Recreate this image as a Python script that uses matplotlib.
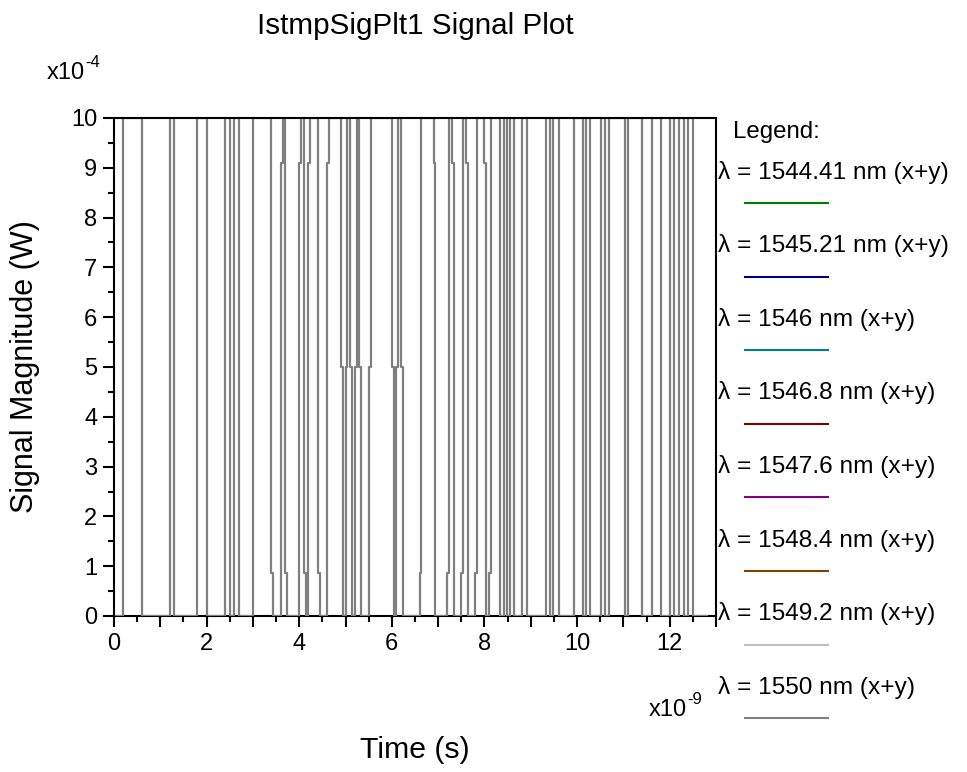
import matplotlib.pyplot as plt
from matplotlib.ticker import MultipleLocator, FuncFormatter

plt.rcParams['font.family'] = ['Liberation Sans', 'DejaVu Sans']

# Edge times of the received pulse train (ns). The signal starts low and
# toggles at every edge; edge_levels holds the level (x1e-4 W) of the single
# sample caught mid-transition, None where the edge is clean.
edge_times = [0.2, 0.6, 1.2, 1.3, 1.8, 2.0, 2.4, 2.5, 2.6, 2.7, 3.0,
              3.4, 3.6, 3.7, 4.0, 4.1, 4.2, 4.4, 4.6,
              4.9, 5.0, 5.1, 5.2, 5.3, 5.5, 6.0, 6.1, 6.2,
              6.6, 6.9, 7.2, 7.3, 7.5, 7.6, 7.8, 8.0, 8.1,
              8.33, 8.42, 8.49, 8.55, 8.63, 8.8, 8.91, 9.32, 9.42, 9.48, 9.62,
              9.93, 10.12, 10.2, 10.28, 10.52, 10.61, 10.7, 11.03, 11.11,
              11.4, 11.62, 11.82, 12.0, 12.1, 12.2, 12.3, 12.4, 12.5]
edge_levels = [None] * 11 + \
              [0.86, 9.1, 0.86, 9.1, 0.86, 9.1, 0.86, 9.1] + \
              [5.0] * 9 + \
              [0.86, 9.1, 0.86, 9.1, 0.86, 9.1, 0.86, 9.1, 0.86] + \
              [None] * 29
high_level = 10.0
settle_ns = 0.04
end_ns = 12.8

wavelengths = ['1544.41', '1545.21', '1546', '1546.8',
               '1547.6', '1548.4', '1549.2', '1550']
colors = ['#008000', '#000080', '#008080', '#800000',
          '#800080', '#804000', '#c0c0c0', '#808080']

# build the step trace
t_pts, y_pts = [0.0], [0.0]
level = 0.0
for t, mid in zip(edge_times, edge_levels):
    new = high_level - level
    t_pts.append(t); y_pts.append(level)
    if mid is not None:
        t_pts += [t, t + settle_ns]; y_pts += [mid, mid]
        t_pts.append(t + settle_ns)
    else:
        t_pts.append(t)
    y_pts.append(new)
    level = new
t_pts.append(end_ns); y_pts.append(level)

fig = plt.figure(figsize=(9.67, 7.72), dpi=100)
ax = fig.add_axes([114 / 967, 1 - 616 / 772, 602 / 967, 498 / 772])

ax.plot(t_pts, y_pts, color=colors[-1], lw=1.6, zorder=2)

ax.set_xlim(0, 13)
ax.set_ylim(0, 10)
ax.xaxis.set_major_locator(MultipleLocator(1))
ax.xaxis.set_minor_locator(MultipleLocator(0.5))
ax.xaxis.set_major_formatter(FuncFormatter(lambda v, p: f'{v:.0f}' if round(v) % 2 == 0 else ''))
ax.yaxis.set_major_locator(MultipleLocator(1))
ax.yaxis.set_minor_locator(MultipleLocator(0.5))
ax.tick_params(which='major', length=8, width=1.5, labelsize=17, pad=4)
ax.tick_params(which='minor', length=4, width=1.5)
for side in ['top', 'right', 'left', 'bottom']:
    ax.spines[side].set_linewidth(1.5)
ax.spines['bottom'].set_zorder(1.5)


def exp_label(x, y, power):
    base = fig.text(x / 967, 1 - y / 772, 'x10', ha='left', va='center', fontsize=17)
    ax.annotate(power, xy=(1.0, 0.62), xycoords=base, ha='left', va='bottom', fontsize=12)


fig.text(415 / 967, 1 - 26 / 772, 'IstmpSigPlt1 Signal Plot', ha='center', va='center', fontsize=21.3)
exp_label(47, 73, '-4')
exp_label(649, 710, '-9')
fig.text(415 / 967, 1 - 750 / 772, 'Time (s)', ha='center', va='center', fontsize=21.8)
fig.text(25 / 967, 1 - 367 / 772, 'Signal Magnitude (W)', ha='center', va='center',
         rotation=90, fontsize=22)

# legend panel laid out in pixel units
lg = fig.add_axes([716 / 967, 0, 251 / 967, 1])
lg.set_xlim(716, 967)
lg.set_ylim(772, 0)
lg.axis('off')
lg.text(733, 132, 'Legend:', ha='left', va='center', fontsize=17.3)
for i, (wl, c) in enumerate(zip(wavelengths, colors)):
    y = 172 + i * 73.6
    lg.text(718, y, f'\u03bb = {wl} nm (x+y)', ha='left', va='center', fontsize=17.6)
    lg.plot([745, 828], [y + 31, y + 31], color=c, lw=1.5)

fig.savefig('out.png', dpi=100)
